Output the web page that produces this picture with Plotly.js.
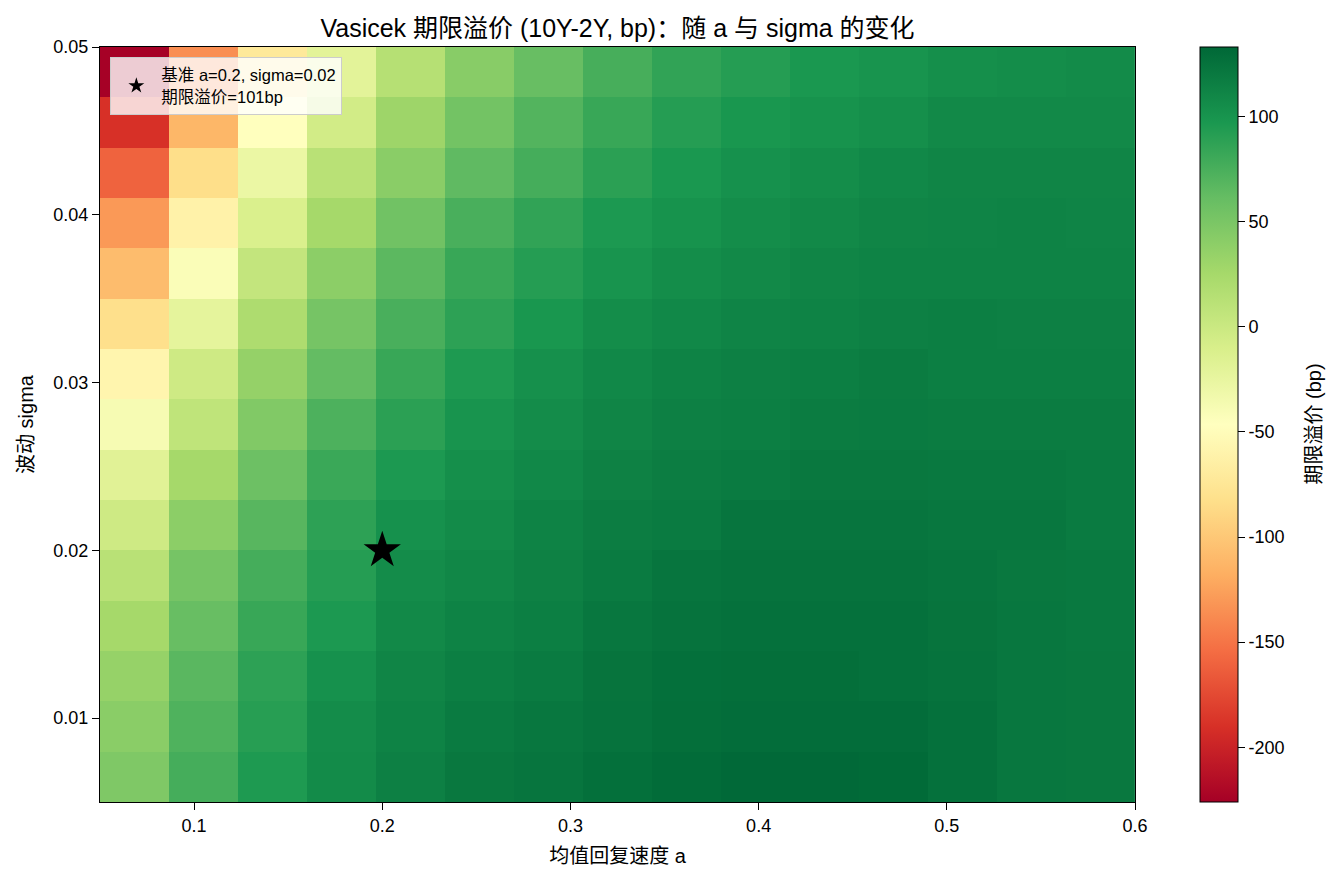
<!DOCTYPE html>
<html>
<head>
<meta charset="utf-8">
<script src="https://cdn.plot.ly/plotly-3.0.1.min.js"></script>
<style>html,body{margin:0;padding:0;background:#fff;}#chart{width:1341px;height:883px;}</style>
</head>
<body>
<div id="chart"></div>
<script>
// Mean-reversion speed a (cell centres)
const aValues = [0.0683, 0.1050, 0.1417, 0.1783, 0.2150, 0.2517, 0.2883, 0.3250, 0.3617, 0.3983, 0.4350, 0.4717, 0.5083, 0.5450, 0.5817];
// Volatility sigma (cell centres)
const sigmaValues = [0.0065, 0.0095, 0.0125, 0.0155, 0.0185, 0.0215, 0.0245, 0.0275, 0.0305, 0.0335, 0.0365, 0.0395, 0.0425, 0.0455, 0.0485];
// Term premium (bp), one row per sigma (bottom to top), one column per a
const premiumRows = [
  [47, 77, 95, 107, 115, 121, 123, 127, 130, 132, 132, 131, 126, 122, 121],
  [41, 72, 91, 106, 113, 119, 122, 125, 128, 129, 129, 129, 126, 122, 121],
  [34, 67, 88, 102, 111, 116, 119, 124, 127, 128, 128, 126, 125, 122, 121],
  [25, 60, 83, 96, 108, 113, 116, 122, 125, 126, 126, 126, 124, 122, 120],
  [12, 52, 77, 92, 106, 110, 114, 119, 123, 125, 125, 125, 123, 121, 120],
  [-3, 40, 68, 88, 102, 107, 113, 117, 119, 123, 123, 123, 122, 122, 119],
  [-18, 25, 57, 82, 96, 104, 109, 114, 117, 119, 121, 121, 120, 120, 119],
  [-38, 8, 46, 73, 89, 100, 106, 111, 115, 116, 118, 119, 118, 118, 118],
  [-58, -3, 35, 62, 83, 95, 103, 109, 113, 115, 116, 118, 116, 116, 116],
  [-82, -22, 20, 52, 75, 88, 98, 105, 109, 112, 113, 115, 116, 115, 115],
  [-108, -42, 5, 40, 66, 83, 92, 100, 105, 108, 111, 113, 113, 113, 113],
  [-130, -62, -12, 25, 55, 75, 86, 96, 101, 105, 108, 111, 112, 113, 112],
  [-160, -83, -28, 12, 41, 64, 77, 89, 97, 102, 105, 109, 111, 111, 111],
  [-190, -112, -47, -6, 30, 54, 70, 83, 92, 98, 101, 104, 108, 108, 108],
  [-225, -136, -72, -20, 14, 42, 60, 76, 86, 92, 97, 100, 104, 105, 107]
];
// Base case marker
const baseA = [0.2];
const baseSigma = [0.02];
const baseLabel = '基准 a=0.2, sigma=0.02<br>期限溢价=101bp';

const colorbarTicks = [-200, -150, -100, -50, 0, 50, 100];
const colorbarTickText = ['-200', '-150', '-100', '-50', '0', '50', '100'];
const xTicks = [0.1, 0.2, 0.3, 0.4, 0.5, 0.6];
const yTicks = [0.01, 0.02, 0.03, 0.04, 0.05];

const rdylgn = [
  [0.0, '#a50026'], [0.1, '#d73027'], [0.2, '#f46d43'], [0.3, '#fdae61'],
  [0.4, '#fee08b'], [0.5, '#ffffbf'], [0.6, '#d9ef8b'], [0.7, '#a6d96a'],
  [0.8, '#66bd63'], [0.9, '#1a9850'], [1.0, '#006837']
];

const FONT = 'Liberation Sans, Arial, Noto Sans CJK SC, sans-serif';
const TICK = 18;

const heat = {
  type: 'heatmap',
  x: aValues,
  y: sigmaValues,
  z: premiumRows,
  colorscale: rdylgn,
  zmin: -226,
  zmax: 133,
  showlegend: false,
  colorbar: {
    x: 1.0628, xanchor: 'left', xref: 'paper', xpad: 0,
    y: 0.5, yanchor: 'middle', len: 1, lenmode: 'fraction', ypad: 0,
    thickness: 38, thicknessmode: 'pixels',
    outlinewidth: 1, outlinecolor: '#000',
    tickvals: colorbarTicks,
    ticktext: colorbarTickText,
    ticks: 'outside', ticklen: 7, tickcolor: '#000',
    tickfont: {family: FONT, size: TICK, color: '#000'}
  }
};

const star = {
  type: 'scatter',
  mode: 'markers',
  x: baseA,
  y: baseSigma,
  name: baseLabel,
  marker: {symbol: 'star', size: 28, color: '#000'},
  showlegend: true
};

const layout = {
  width: 1341,
  height: 883,
  margin: {l: 100, r: 206, t: 47, b: 81},
  paper_bgcolor: '#fff',
  plot_bgcolor: '#fff',
  font: {family: FONT, size: TICK, color: '#000'},
  title: {
    text: 'Vasicek 期限溢价 (10Y-2Y, bp)：随 a 与 sigma 的变化',
    font: {family: FONT, size: 25, color: '#000'},
    x: 0.5, xanchor: 'center', xref: 'paper',
    y: 1 - 28 / 883, yanchor: 'middle'
  },
  xaxis: {
    range: [0.05, 0.6],
    tickvals: xTicks,
    tickformat: '.1f',
    ticks: 'outside', ticklen: 7, tickcolor: '#000',
    showline: true, linecolor: '#000', linewidth: 1, mirror: true,
    showgrid: false, zeroline: false,
    tickfont: {family: FONT, size: TICK},
    title: {text: '均值回复速度 a', font: {family: FONT, size: 20}, standoff: 14}
  },
  yaxis: {
    range: [0.005, 0.05],
    tickvals: yTicks,
    tickformat: '.2f',
    ticks: 'outside', ticklen: 7, tickcolor: '#000',
    showline: true, linecolor: '#000', linewidth: 1, mirror: true,
    showgrid: false, zeroline: false,
    tickfont: {family: FONT, size: TICK},
    title: {text: '波动 sigma', font: {family: FONT, size: 20}, standoff: 14}
  },
  legend: {
    x: 0.01, y: 0.987, xanchor: 'left', yanchor: 'top',
    bgcolor: 'rgba(255,255,255,0.8)',
    bordercolor: '#cccccc', borderwidth: 1,
    font: {family: FONT, size: 16.5, color: '#000'},
    itemsizing: 'constant',
    itemwidth: 40
  },
  annotations: [{
    text: '期限溢价 (bp)',
    xref: 'paper', yref: 'paper',
    x: (1313 - 100) / 1035, y: 0.5,
    xanchor: 'center', yanchor: 'middle',
    textangle: -90, showarrow: false,
    font: {family: FONT, size: 20, color: '#000'}
  }]
};

Plotly.newPlot('chart', [heat, star], layout, {displayModeBar: false, staticPlot: true});
</script>
</body>
</html>
